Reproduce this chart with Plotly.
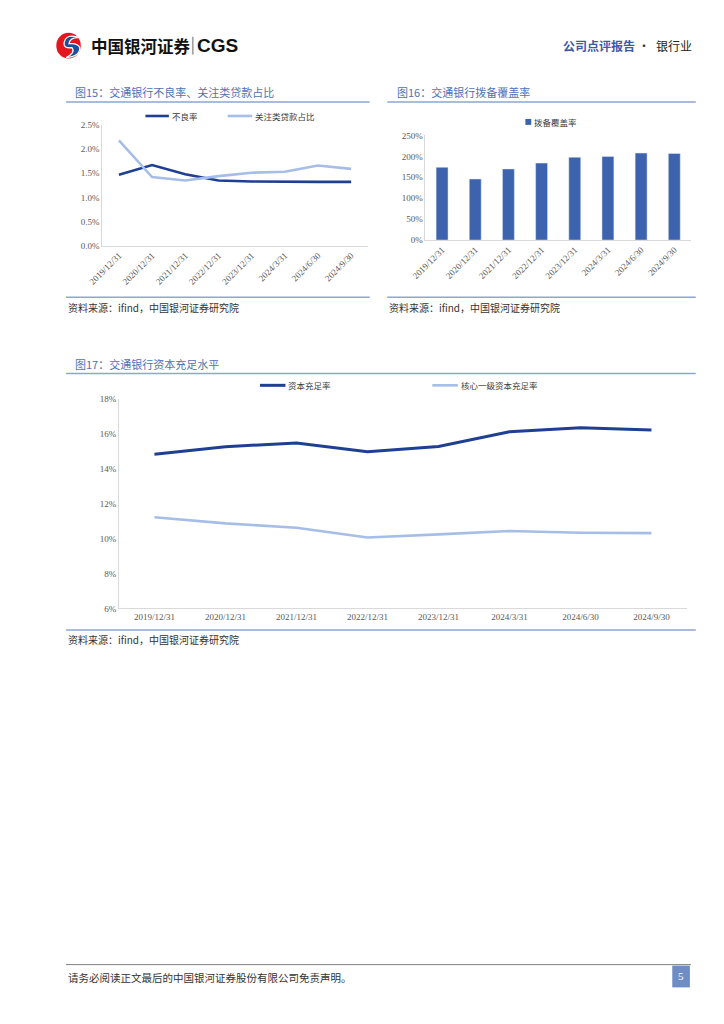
import plotly.graph_objects as go

# ---------------- data ----------------
dates = ["2019/12/31", "2020/12/31", "2021/12/31", "2022/12/31",
         "2023/12/31", "2024/3/31", "2024/6/30", "2024/9/30"]

npl_name = "不良率"
npl = [1.47, 1.67, 1.48, 1.35, 1.33, 1.32, 1.32, 1.32]
sm_name = "关注类贷款占比"
special_mention = [2.18, 1.42, 1.35, 1.44, 1.51, 1.53, 1.66, 1.59]

cov_name = "拨备覆盖率"
coverage = [174, 146, 170, 184, 198, 200, 208, 207]

car_name = "资本充足率"
car = [14.83, 15.26, 15.48, 14.98, 15.27, 16.12, 16.35, 16.22]
cet1_name = "核心一级资本充足率"
cet1 = [11.22, 10.87, 10.62, 10.06, 10.24, 10.43, 10.33, 10.31]

y15_ticks = [0, 0.5, 1.0, 1.5, 2.0, 2.5]
y16_ticks = [0, 50, 100, 150, 200, 250]
y17_ticks = [6, 8, 10, 12, 14, 16, 18]

title15 = "图15：交通银行不良率、关注类贷款占比"
title16 = "图16：交通银行拨备覆盖率"
title17 = "图17：交通银行资本充足水平"
source_txt = "资料来源：ifind，中国银河证券研究院"
footer_txt = "请务必阅读正文最后的中国银河证券股份有限公司免责声明。"

# ---------------- style ----------------
W, H = 724, 1024
OFF = 8  # page body margin
DARK = "#1f3f93"
LIGHT = "#a6bee7"
BAR = "#3d63ae"
TITLE_C = "#5271b4"
RULE_C = "#8ea5d6"
AXIS_C = "#d9d9d9"
TICK_C = "#595959"
FONT = "Liberation Serif, Noto Sans CJK SC"
CJK = "Noto Sans CJK SC"


def px(x):
    return (x - OFF) / W


def py(y):
    return 1 - (y - OFF) / H


fig = go.Figure()

# chart 15
fig.add_trace(go.Scatter(x=dates, y=npl, mode="lines", name=npl_name,
                         line=dict(color=DARK, width=2.6), xaxis="x", yaxis="y",
                         showlegend=False))
fig.add_trace(go.Scatter(x=dates, y=special_mention, mode="lines", name=sm_name,
                         line=dict(color=LIGHT, width=2.6), xaxis="x", yaxis="y",
                         showlegend=False))
# chart 16
fig.add_trace(go.Bar(x=dates, y=coverage, name=cov_name, marker_color=BAR,
                     width=0.36, xaxis="x2", yaxis="y2", showlegend=False))
# chart 17
fig.add_trace(go.Scatter(x=dates, y=car, mode="lines", name=car_name,
                         line=dict(color=DARK, width=3), xaxis="x3", yaxis="y3",
                         showlegend=False))
fig.add_trace(go.Scatter(x=dates, y=cet1, mode="lines", name=cet1_name,
                         line=dict(color=LIGHT, width=2.6), xaxis="x3", yaxis="y3",
                         showlegend=False))

tickfont = dict(family=FONT, size=9, color=TICK_C)
common_x = dict(type="category", range=[-0.5, 7.5], showgrid=False, zeroline=False,
                showline=True, linecolor=AXIS_C, linewidth=1, ticks="",
                tickfont=tickfont, fixedrange=True)
common_y = dict(showgrid=False, zeroline=False, showline=True, linecolor=AXIS_C,
                linewidth=1, ticks="", tickfont=tickfont, fixedrange=True)

fig.update_layout(
    width=W, height=H,
    margin=dict(l=0, r=0, t=0, b=0),
    paper_bgcolor="white", plot_bgcolor="white",
    font=dict(family=FONT, color=TICK_C),
    xaxis=dict(common_x, domain=[px(89), px(360)], anchor="y", tickangle=-45),
    yaxis=dict(common_y, domain=[py(243), py(121)], anchor="x", range=[0, 2.5],
               tickvals=y15_ticks, ticktext=[f"{v:.1f}%" for v in y15_ticks]),
    xaxis2=dict(common_x, domain=[px(419), px(690)], anchor="y2", tickangle=-45),
    yaxis2=dict(common_y, domain=[py(237.3), py(131.7)], anchor="x2", range=[0, 250],
                tickvals=y16_ticks, ticktext=[f"{v}%" for v in y16_ticks]),
    xaxis3=dict(common_x, domain=[px(106), px(686)], anchor="y3", tickangle=0),
    yaxis3=dict(common_y, domain=[py(609.3), py(397.7)], anchor="x3", range=[6, 18],
                tickvals=y17_ticks, ticktext=[f"{v}%" for v in y17_ticks]),
    bargap=0.64,
)

shapes = []
annotations = []


def text(x, y, s, size, color, anchor="left", family=CJK):
    annotations.append(dict(x=px(x), y=py(y), xref="paper", yref="paper", text=s,
                            showarrow=False, xanchor=anchor, yanchor="middle",
                            font=dict(family=family, size=size, color=color)))


def hline(x0, x1, y, color, width=1):
    shapes.append(dict(type="line", xref="paper", yref="paper", x0=px(x0), x1=px(x1),
                       y0=py(y), y1=py(y), line=dict(color=color, width=width)))


# ---------- header ----------
shapes.append(dict(type="circle", xref="paper", yref="paper",
                   x0=px(42), x1=px(67), y0=py(54), y1=py(28),
                   fillcolor="#e4161d", line=dict(width=0)))
shapes.append(dict(type="path", xref="paper", yref="paper",
                   path=(f"M {px(66)},{py(33)} Q {px(52)},{py(28)} {px(50)},{py(38)} "
                         f"Q {px(49)},{py(44)} {px(58)},{py(43)} "
                         f"Q {px(62)},{py(48)} {px(52)},{py(53)} "
                         f"Q {px(66)},{py(52)} {px(66)},{py(43)} "
                         f"Q {px(64)},{py(38)} {px(55)},{py(39)} "
                         f"Q {px(56)},{py(32)} {px(66)},{py(33)} Z"),
                   fillcolor="#1d4e9e", line=dict(color="white", width=1.2)))
annotations.append(dict(x=px(75), y=py(41), xref="paper", yref="paper",
                        text="<b>中国银河证券</b>", showarrow=False, xanchor="left",
                        yanchor="middle", font=dict(family=CJK, size=16.5, color="#111111")))
shapes.append(dict(type="line", xref="paper", yref="paper", x0=px(181.5), x1=px(181.5),
                   y0=py(32), y1=py(50), line=dict(color="#666666", width=1)))
annotations.append(dict(x=px(184), y=py(41), xref="paper", yref="paper",
                        text="<b>CGS</b>", showarrow=False, xanchor="left",
                        yanchor="middle", font=dict(family="Liberation Sans", size=19,
                                                    color="#111111")))
annotations.append(dict(x=px(557), y=py(41), xref="paper", yref="paper",
                        text="<b>公司点评报告</b>", showarrow=False, xanchor="left",
                        yanchor="middle", font=dict(family=CJK, size=12, color="#3c5ba6")))
annotations.append(dict(x=px(642), y=py(41), xref="paper", yref="paper",
                        text="·", showarrow=False, xanchor="center",
                        yanchor="middle", font=dict(family=CJK, size=12, color="#333333")))
annotations.append(dict(x=px(652), y=py(41), xref="paper", yref="paper",
                        text="银行业", showarrow=False, xanchor="left",
                        yanchor="middle", font=dict(family=CJK, size=12, color="#222222")))

# ---------- chart titles / rules / sources ----------
text(59, 88, title15, 11, TITLE_C)
hline(52, 362, 98, RULE_C, 1.5)
text(388, 88, title16, 11, TITLE_C)
hline(380, 695, 98, RULE_C, 1.5)
hline(52, 362, 295, RULE_C, 1.5)
hline(380, 695, 295, RULE_C, 1.5)
text(52, 305, source_txt, 10, "#333333")
text(380, 305, source_txt, 10, "#333333")

text(59, 362, title17, 11, TITLE_C)
hline(52, 695, 372, RULE_C, 1.5)
hline(52, 695, 631, RULE_C, 1.5)
text(52, 641, source_txt, 10, "#333333")


# ---------- legends ----------
def leg_line(x0, x1, y, color, width, label):
    hline(x0, x1, y, color, width)
    text(x1 + 1, y, label, 8.5, "#404040")


leg_line(133, 157, 112, DARK, 2.6, npl_name)
leg_line(217, 242, 112, LIGHT, 2.6, sm_name)
shapes.append(dict(type="rect", xref="paper", yref="paper", x0=px(521), x1=px(527),
                   y0=py(121), y1=py(115), fillcolor=BAR, line=dict(width=0)))
text(528, 118, cov_name, 8.5, "#404040")
leg_line(250, 276, 384, DARK, 3, car_name)
leg_line(426, 452, 384, LIGHT, 2.6, cet1_name)

# ---------- footer ----------
hline(52, 690, 969, "#7f7f7f", 1)
text(52, 982, footer_txt, 10.5, "#333333")
shapes.append(dict(type="rect", xref="paper", yref="paper", x0=px(671), x1=px(689),
                   y0=py(992), y1=py(970), fillcolor="#6e8cc6", line=dict(width=0)))
text(680, 981, "5", 11, "white", anchor="center", family="Liberation Serif")

fig.update_layout(shapes=shapes, annotations=annotations)

fig.write_html("out.html")
